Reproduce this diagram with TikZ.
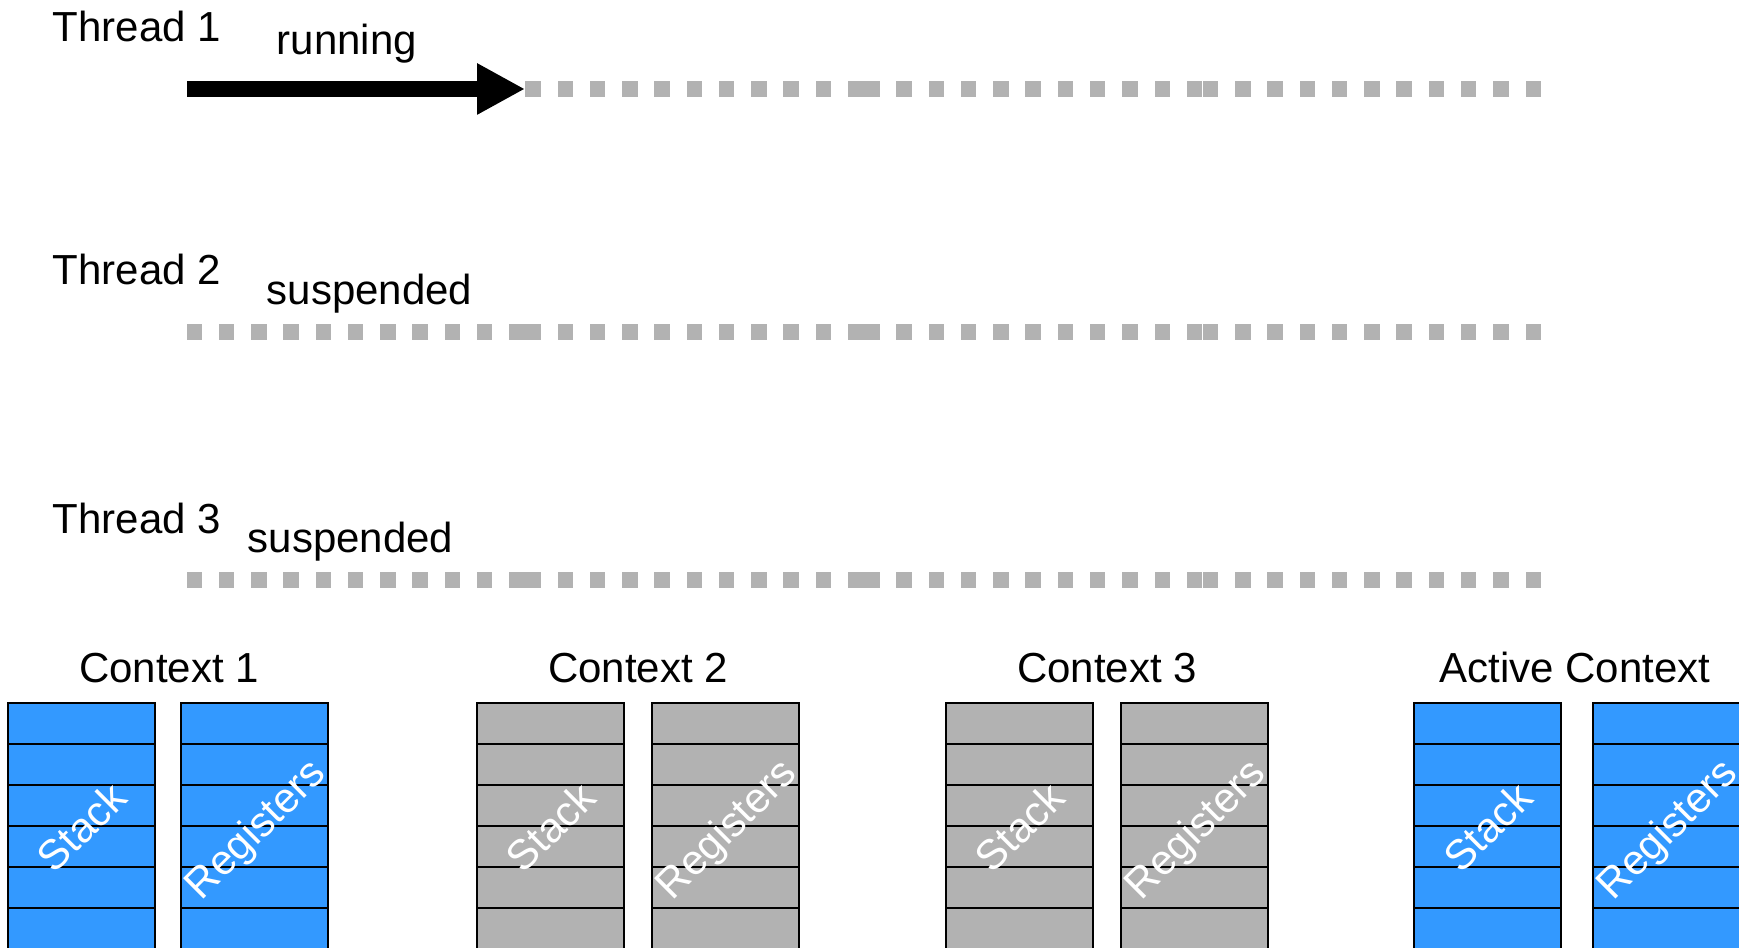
\documentclass[tikz,border=0pt]{standalone}
\usepackage{fontspec}
\setmainfont{Liberation Sans}
\usetikzlibrary{arrows.meta}

\definecolor{ctxblue}{HTML}{3399FF}
\definecolor{ctxgray}{HTML}{B2B2B2}

\tikzset{
  lbl/.style={anchor=base west, inner sep=0pt, font=\fontsize{11.95}{14}\selectfont},
  ctxlbl/.style={anchor=base, inner sep=0pt, font=\fontsize{11.95}{14}\selectfont},
  cell/.style={draw=black, line width=0.6pt},
  slanted/.style={rotate=45, text=white, inner sep=0pt, font=\fontsize{11.95}{14}\selectfont},
  sq/.style={fill=ctxgray},
  runarrow/.style={line width=0.16cm, -{Triangle[length=0.48cm, width=0.48cm]}}
}

\begin{document}
\begin{tikzpicture}
  \useasboundingbox (0,0) rectangle (17.39,9.48);
  \clip (0,0) rectangle (17.39,9.48);

  % thread labels
  \node[lbl] (th1) at (0.52, 9.06) {Thread 1};
  \node[lbl] (st1) at (2.76, 8.93) {running};
  \node[lbl] (th2) at (0.52, 6.63) {Thread 2};
  \node[lbl] (st2) at (2.66, 6.43) {suspended};
  \node[lbl] (th3) at (0.52, 4.14) {Thread 3};
  \node[lbl] (st3) at (2.47, 3.95) {suspended};

  % dotted time lines
  \foreach \y/\first in {8.59/1, 6.16/0, 3.68/0} {
    \foreach \s in {\first,...,3} {
      \foreach \k in {0,...,10}
        \fill[sq] (1.865+\s*3.3875+\k*0.32275, \y-0.08) rectangle ++(0.155,0.16);
    }
  }

  % running part of thread 1
  \coordinate (t1start) at (1.87, 8.59);
  \coordinate (t1end) at (5.25, 8.59);
  \draw[runarrow] (t1start) -- (t1end);

  % contexts
  \foreach \i/\xl/\xr/\name/\col in {0/0.08/1.81/Context 1/ctxblue, 1/4.77/6.52/Context 2/ctxgray,
                                     2/9.46/11.21/Context 3/ctxgray, 3/14.14/15.93/Active Context/ctxblue} {
    \node[ctxlbl] (ctx\i) at (\xl+1.61, 2.65) {\name};
    \foreach \r in {0,...,5} {
      \draw[cell, fill=\col] (\xl, 2.45-\r*0.41) rectangle ++(1.47,-0.41);
      \draw[cell, fill=\col] (\xr, 2.45-\r*0.41) rectangle ++(1.47,-0.41);
    }
    \node[slanted] (stk\i) at (\xl+0.735, 1.21) {Stack};
    \node[slanted] (reg\i) at (\xr+0.76, 1.17) {Registers};
  }
\end{tikzpicture}
\end{document}
